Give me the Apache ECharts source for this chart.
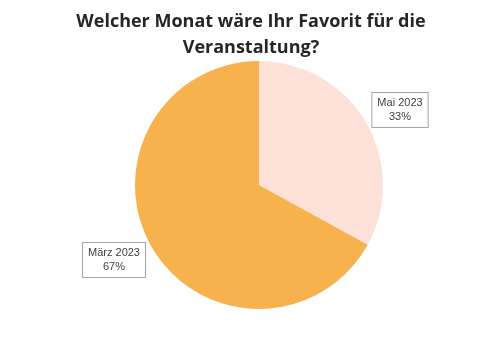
<!DOCTYPE html>
<html><head><meta charset="utf-8">
<script src="https://cdn.jsdelivr.net/npm/echarts@6/dist/echarts.min.js"></script>
<style>html,body{margin:0;padding:0;background:#fff}#c{width:502px;height:360px}</style>
</head><body><div id="c"></div>
<script>
const titleText = 'Welcher Monat wäre Ihr Favorit für die\nVeranstaltung?';
const categories = ['Mai 2023', 'März 2023'];
const values = [33, 67];
const colors = ['#fde2da', '#f7b24e'];
const labelPos = [[400, 110], [114, 260]];

const chart = echarts.init(document.getElementById('c'));
chart.setOption({
  animation: false,
  title: {
    text: titleText, left: 'center', top: 4,
    textStyle: {fontFamily: 'Open Sans', fontWeight: 'bold', fontSize: 18, color: '#262626', lineHeight: 26}
  },
  series: [{
    type: 'pie',
    center: [259, 185], radius: 124,
    startAngle: 90, clockwise: true,
    data: categories.map((c, i) => ({name: c, value: values[i], itemStyle: {color: colors[i]}})),
    label: {
      show: true,
      formatter: p => p.name + '\n' + Math.round(p.percent) + '%',
      fontFamily: 'Liberation Sans', fontSize: 11, color: '#404040', lineHeight: 14,
      backgroundColor: '#fff', borderColor: '#a6a6a6', borderWidth: 1,
      padding: [3, 5, 3, 5], align: 'center'
    },
    labelLine: {show: false},
    labelLayout: p => ({x: labelPos[p.dataIndex][0], y: labelPos[p.dataIndex][1], align: 'center', verticalAlign: 'middle'}),
    emphasis: {disabled: true}
  }]
});
</script></body></html>
